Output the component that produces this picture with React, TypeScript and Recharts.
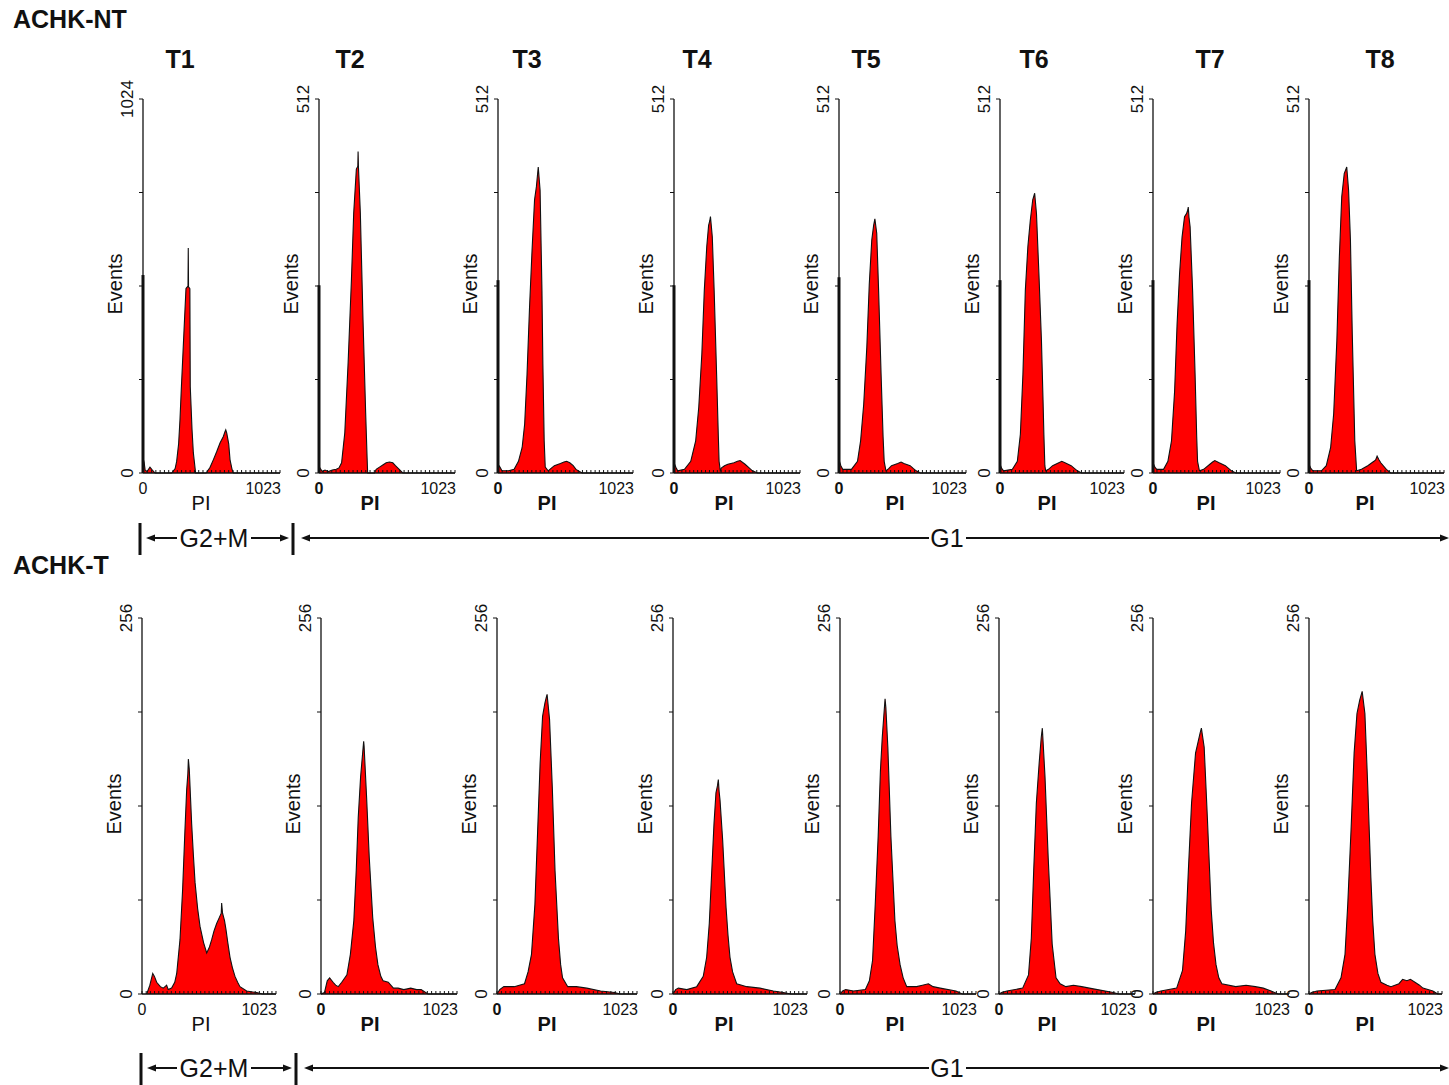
import React from 'react';
import { ComposedChart, Area, XAxis, YAxis, Label, ReferenceLine } from 'recharts';

// ---------- labels ----------
const PANEL_TITLES = ['T1', 'T2', 'T3', 'T4', 'T5', 'T6', 'T7', 'T8'];
const ROW_NAMES = ['ACHK-NT', 'ACHK-T'];
const NT_YMAX = [1024, 512, 512, 512, 512, 512, 512, 512];
const T_YMAX = [256, 256, 256, 256, 256, 256, 256, 256];
const X_TICKS = [0, 32, 64, 96, 128, 160, 192, 224, 256, 288, 320, 352, 384, 416, 448, 480, 512, 544, 576, 608, 640, 672, 704, 736, 768, 800, 832, 864, 896, 928, 960, 992, 1023];
const X_MAX = 1023;

// ---------- data: off-scale debris spike in channel 0 (ACHK-NT) ----------
const NT_SPIKE = [542, 257, 264, 257, 268, 264, 264, 264];
const T_SPIKE = [0, 0, 0, 0, 0, 0, 0, 0];

// ---------- data: [PI channel, events] ----------
const NT_T1 = [[0,41],[8,30],[16,8],[30,4],[52,16],[70,8],[90,0],[214,0],[240,12],[251,31],[266,80],[276,145],[286,230],[296,309],[310,420],[321,505],[336,512],[338,616],[340,510],[350,505],[353,236],[366,120],[376,55],[393,0],[471,0],[500,15],[525,36],[550,58],[575,82],[600,100],[612,113],[618,118],[625,110],[640,80],[650,36],[665,10],[675,0],[1023,0]];
const NT_T2 = [[0,9],[10,6],[25,2],[45,4],[70,2],[100,4],[130,5],[150,7],[170,14],[194,55],[219,151],[244,265],[261,356],[281,416],[292,420],[294,440],[297,418],[311,356],[331,210],[351,82],[362,20],[366,0],[418,0],[430,5],[455,8],[480,11],[505,14],[530,15],[555,14],[575,10],[592,7],[630,0],[1023,0]];
const NT_T3 = [[0,12],[15,8],[30,3],[80,3],[122,5],[155,16],[183,35],[202,67],[220,135],[239,227],[258,305],[277,374],[291,392],[305,419],[319,387],[333,250],[340,150],[350,44],[358,8],[380,3],[400,6],[427,10],[473,13],[500,15],[520,16],[544,14],[570,10],[591,5],[637,0],[1023,0]];
const NT_T4 = [[0,14],[15,8],[30,3],[85,5],[136,16],[176,44],[201,90],[226,163],[246,250],[266,310],[281,339],[290,345],[296,351],[302,340],[311,323],[326,250],[346,135],[360,50],[366,16],[376,3],[386,7],[410,10],[437,12],[487,14],[515,16],[537,17],[577,12],[610,7],[637,3],[678,0],[1023,0]];
const NT_T5 = [[0,18],[15,10],[30,5],[100,5],[149,16],[174,44],[199,94],[224,172],[244,259],[264,319],[279,339],[289,348],[304,328],[319,250],[339,135],[355,50],[364,16],[378,3],[400,6],[423,10],[473,13],[500,15],[523,13],[573,10],[600,6],[622,3],[657,0],[1023,0]];
const NT_T6 = [[0,12],[15,6],[30,3],[102,5],[143,16],[168,53],[189,135],[209,250],[230,310],[250,346],[270,374],[286,383],[301,355],[321,273],[342,181],[355,100],[362,53],[370,10],[377,3],[400,5],[434,10],[485,14],[510,16],[536,14],[587,10],[638,3],[673,0],[1023,0]];
const NT_T7 = [[0,14],[15,8],[30,5],[85,5],[120,16],[149,44],[174,112],[194,204],[214,273],[234,323],[254,351],[270,355],[280,360],[284,364],[290,350],[299,337],[319,250],[339,135],[352,50],[359,16],[374,3],[408,5],[458,12],[480,15],[498,17],[533,14],[583,10],[632,3],[667,0],[1023,0]];
const NT_T8 = [[0,12],[15,6],[30,3],[94,3],[131,10],[164,35],[187,81],[211,181],[230,296],[248,378],[267,410],[286,419],[300,387],[314,319],[328,190],[347,44],[361,3],[398,5],[445,10],[492,16],[505,18],[516,23],[530,18],[544,14],[586,5],[619,0],[1023,0]];

const T_T1 = [[36,0],[60,6],[82,14],[95,12],[112,8],[140,5],[163,4],[188,6],[200,3],[226,4],[250,8],[265,14],[290,37],[310,71],[328,112],[341,139],[350,150],[354,160],[361,153],[379,116],[392,95],[405,76],[425,58],[443,46],[470,35],[494,28],[515,32],[532,37],[550,43],[570,48],[590,52],[605,55],[608,62],[615,55],[630,50],[641,44],[655,35],[672,25],[690,18],[710,12],[730,8],[748,5],[799,2],[875,1],[920,0],[1023,0]];
const T_T2 = [[0,0],[26,1],[47,9],[65,11],[91,8],[110,6],[130,5],[156,8],[195,13],[221,27],[247,50],[265,84],[280,120],[298,148],[317,168],[321,172],[324,169],[343,134],[363,93],[389,52],[410,32],[428,20],[450,12],[467,9],[506,8],[545,4],[580,4],[623,3],[675,4],[720,3],[753,3],[805,0],[1023,0]];
const T_T3 = [[0,0],[20,3],[50,5],[126,5],[201,7],[227,15],[252,27],[277,61],[297,111],[315,157],[333,189],[350,198],[360,202],[366,204],[384,187],[404,141],[424,84],[449,38],[465,20],[479,11],[517,5],[580,5],[656,4],[757,2],[858,1],[900,0],[1023,0]];
const T_T4 = [[0,0],[20,3],[41,4],[105,3],[181,5],[231,12],[257,25],[277,48],[295,82],[313,116],[328,137],[340,142],[346,146],[352,138],[359,132],[379,105],[405,59],[420,40],[435,25],[455,15],[486,7],[563,5],[664,4],[766,2],[842,1],[900,0],[1023,0]];
const T_T5 = [[0,0],[20,2],[43,3],[102,2],[191,3],[221,9],[245,23],[265,61],[287,107],[304,152],[318,175],[330,190],[339,201],[345,195],[360,168],[383,107],[413,50],[430,33],[452,20],[475,11],[502,5],[576,5],[620,6],[665,7],[700,5],[754,4],[872,2],[920,0],[1023,0]];
const T_T6 = [[0,0],[20,1],[59,2],[178,4],[222,13],[243,38],[261,84],[281,130],[302,157],[318,175],[326,181],[346,148],[370,93],[400,34],[429,11],[460,7],[503,5],[560,6],[622,5],[680,4],[740,3],[859,1],[900,0],[1023,0]];
const T_T7 = [[0,0],[20,1],[59,2],[178,4],[222,16],[246,43],[266,84],[290,130],[320,164],[340,172],[355,178],[364,181],[385,168],[409,120],[438,57],[455,35],[474,20],[495,11],[518,7],[622,5],[700,6],[770,5],[830,4],[888,2],[940,0],[1023,0]];
const T_T8 = [[0,0],[20,1],[61,2],[200,3],[246,11],[277,27],[298,61],[323,111],[347,164],[369,191],[390,200],[409,206],[430,191],[452,141],[476,79],[490,50],[507,27],[530,14],[553,8],[600,6],[630,5],[692,7],[720,10],[753,9],[780,10],[815,8],[850,6],[876,4],[953,2],[990,0],[1023,0]];

const NT_SERIES = [NT_T1, NT_T2, NT_T3, NT_T4, NT_T5, NT_T6, NT_T7, NT_T8];
const T_SERIES = [T_T1, T_T2, T_T3, T_T4, T_T5, T_T6, T_T7, T_T8];

// ---------- layout ----------
const FONT = '"Liberation Sans", Arial, Helvetica, sans-serif';
const TOP_AXIS_X = [143, 319, 498, 674, 839, 1000, 1153, 1309];
const TOP_WIDTHS = [137, 136, 135, 126, 127, 124, 127, 135];
const BOT_AXIS_X = [142, 321, 497, 673, 840, 999, 1153, 1309];
const BOT_WIDTHS = [134, 136, 140, 134, 136, 136, 136, 133];
const PI_X = [201, 370, 547, 724, 895, 1047, 1206, 1365];
const TITLE_X = [180, 350, 527, 697, 866, 1034, 1210, 1380];
const ROW_TOP = [99, 618];
const ROW_H = [374, 376];
const ML = 50, MT = 20, MR = 10, XH = 50;
const INK = '#111';

type PanelProps = {
  points: number[][];
  spike: number;
  yMax: number;
  axisX: number;
  w: number;
  top: number;
  plotH: number;
  bold: boolean;
  piX: number;
};

function Panel({ points, spike, yMax, axisX, w, top, plotH, bold, piX }: PanelProps) {
  const data = points.map((p) => ({ ch: p[0], ev: p[1] }));
  const bottom = MT + plotH;
  const yTicks = [0, yMax / 4, yMax / 2, (3 * yMax) / 4, yMax];

  const xTick = (props: any) => {
    const { x, payload } = props;
    const v = payload.value;
    const isEnd = v === X_MAX;
    const show = v === 0 || isEnd;
    return (
      <g>
        <line x1={x} x2={x} y1={bottom} y2={bottom - 3} stroke={INK} strokeWidth={1} />
        {show && (
          <text
            x={isEnd ? x + 1 : x}
            y={bottom + 21}
            textAnchor={isEnd ? 'end' : 'middle'}
            fontSize={16}
            fontFamily={FONT}
            fontWeight={v === 0 && bold ? 'bold' : 'normal'}
            fill={INK}
          >
            {v}
          </text>
        )}
      </g>
    );
  };

  const yTick = (props: any) => {
    const { y, payload } = props;
    const v = payload.value;
    if (v !== 0 && v !== yMax) return <g />;
    return (
      <text
        transform={`translate(${ML - 10},${y}) rotate(-90)`}
        textAnchor="middle"
        fontSize={17}
        fontFamily={FONT}
        fill={INK}
      >
        {v}
      </text>
    );
  };

  const eventsLabel = (props: any) => {
    const vb = props.viewBox || { y: MT, height: plotH };
    const cy = vb.y + vb.height / 2 - 2;
    return (
      <text
        transform={`translate(${ML - 21},${cy}) rotate(-90)`}
        textAnchor="middle"
        fontSize={20}
        fontFamily={FONT}
        fill={INK}
      >
        Events
      </text>
    );
  };

  const piLabel = () => (
    <text
      x={piX - (axisX - ML)}
      y={bottom + 37}
      textAnchor="middle"
      fontSize={20}
      fontFamily={FONT}
      fontWeight={bold ? 'bold' : 'normal'}
      fill={INK}
    >
      PI
    </text>
  );

  return (
    <div style={{ position: 'absolute', left: axisX - ML, top: top - MT }}>
      <ComposedChart
        width={ML + w + MR}
        height={MT + plotH + XH}
        data={data}
        margin={{ top: MT, right: MR, bottom: 0, left: 0 }}
      >
        <XAxis
          type="number"
          dataKey="ch"
          domain={[0, X_MAX]}
          ticks={X_TICKS}
          interval={0}
          tickLine={false}
          tick={xTick}
          axisLine={{ stroke: INK, strokeWidth: 1.3 }}
          height={XH}
        >
          <Label content={piLabel} />
        </XAxis>
        <YAxis
          type="number"
          domain={[0, yMax]}
          ticks={yTicks}
          interval={0}
          width={ML}
          tickSize={4}
          tickLine={{ stroke: INK, strokeWidth: 1 }}
          axisLine={{ stroke: INK, strokeWidth: 1.3 }}
          tick={yTick}
        >
          <Label content={eventsLabel} />
        </YAxis>
        <Area
          type="linear"
          dataKey="ev"
          stroke={INK}
          strokeWidth={1.1}
          fill="#ff0000"
          fillOpacity={1}
          dot={false}
          activeDot={false}
          isAnimationActive={false}
        />
        {spike > 0 && (
          <ReferenceLine
            segment={[{ x: 0, y: 0 }, { x: 0, y: spike }]}
            stroke={INK}
            strokeWidth={3}
            ifOverflow="visible"
          />
        )}
      </ComposedChart>
    </div>
  );
}

function PhaseRow({ y, bar1, bar2 }: { y: number; bar1: number; bar2: number }) {
  const ah = 9;
  const hw = 3.5;
  return (
    <g stroke={INK} fill={INK}>
      <line x1={bar1} x2={bar1} y1={y - 15} y2={y + 17} strokeWidth={3} />
      <line x1={bar2} x2={bar2} y1={y - 15} y2={y + 17} strokeWidth={3} />
      <line x1={bar1 + 6 + ah} x2={177} y1={y} y2={y} strokeWidth={2} />
      <polygon points={`${bar1 + 6},${y} ${bar1 + 6 + ah},${y - hw} ${bar1 + 6 + ah},${y + hw}`} stroke="none" />
      <line x1={251} x2={bar2 - 4 - ah} y1={y} y2={y} strokeWidth={2} />
      <polygon points={`${bar2 - 4},${y} ${bar2 - 4 - ah},${y - hw} ${bar2 - 4 - ah},${y + hw}`} stroke="none" />
      <text x={214} y={y + 9} textAnchor="middle" fontSize={25} fontFamily={FONT} stroke="none" fill={INK}>
        G2+M
      </text>
      <line x1={bar2 + 8 + ah} x2={929} y1={y} y2={y} strokeWidth={2} />
      <polygon points={`${bar2 + 8},${y} ${bar2 + 8 + ah},${y - hw} ${bar2 + 8 + ah},${y + hw}`} stroke="none" />
      <text x={947} y={y + 9} textAnchor="middle" fontSize={25} fontFamily={FONT} stroke="none" fill={INK}>
        G1
      </text>
      <line x1={966} x2={1449 - ah} y1={y} y2={y} strokeWidth={2} />
      <polygon points={`${1449},${y} ${1449 - ah},${y - hw} ${1449 - ah},${y + hw}`} stroke="none" />
    </g>
  );
}

export default function App() {
  return (
    <div
      style={{
        position: 'absolute',
        left: 0,
        top: 0,
        width: 1449,
        height: 1085,
        background: '#fff',
        fontFamily: FONT,
        overflow: 'hidden',
      }}
    >
      <svg
        width={1449}
        height={1085}
        style={{ position: 'absolute', left: 0, top: 0, pointerEvents: 'none' }}
      >
        <text x={13} y={28} fontSize={25} fontWeight="bold" fontFamily={FONT} fill={INK}>
          {ROW_NAMES[0]}
        </text>
        <text x={13} y={574} fontSize={25} fontWeight="bold" fontFamily={FONT} fill={INK}>
          {ROW_NAMES[1]}
        </text>
        {PANEL_TITLES.map((t, i) => (
          <text
            key={t}
            x={TITLE_X[i]}
            y={68}
            textAnchor="middle"
            fontSize={25}
            fontWeight="bold"
            fontFamily={FONT}
            fill={INK}
          >
            {t}
          </text>
        ))}
        <PhaseRow y={538} bar1={140} bar2={293} />
        <PhaseRow y={1068} bar1={141} bar2={296} />
      </svg>
      {NT_SERIES.map((pts, i) => (
        <Panel
          key={'nt' + i}
          points={pts}
          spike={NT_SPIKE[i]}
          yMax={NT_YMAX[i]}
          axisX={TOP_AXIS_X[i]}
          w={TOP_WIDTHS[i]}
          top={ROW_TOP[0]}
          plotH={ROW_H[0]}
          bold={i > 0}
          piX={PI_X[i]}
        />
      ))}
      {T_SERIES.map((pts, i) => (
        <Panel
          key={'t' + i}
          points={pts}
          spike={T_SPIKE[i]}
          yMax={T_YMAX[i]}
          axisX={BOT_AXIS_X[i]}
          w={BOT_WIDTHS[i]}
          top={ROW_TOP[1]}
          plotH={ROW_H[1]}
          bold={i > 0}
          piX={PI_X[i]}
        />
      ))}
    </div>
  );
}
